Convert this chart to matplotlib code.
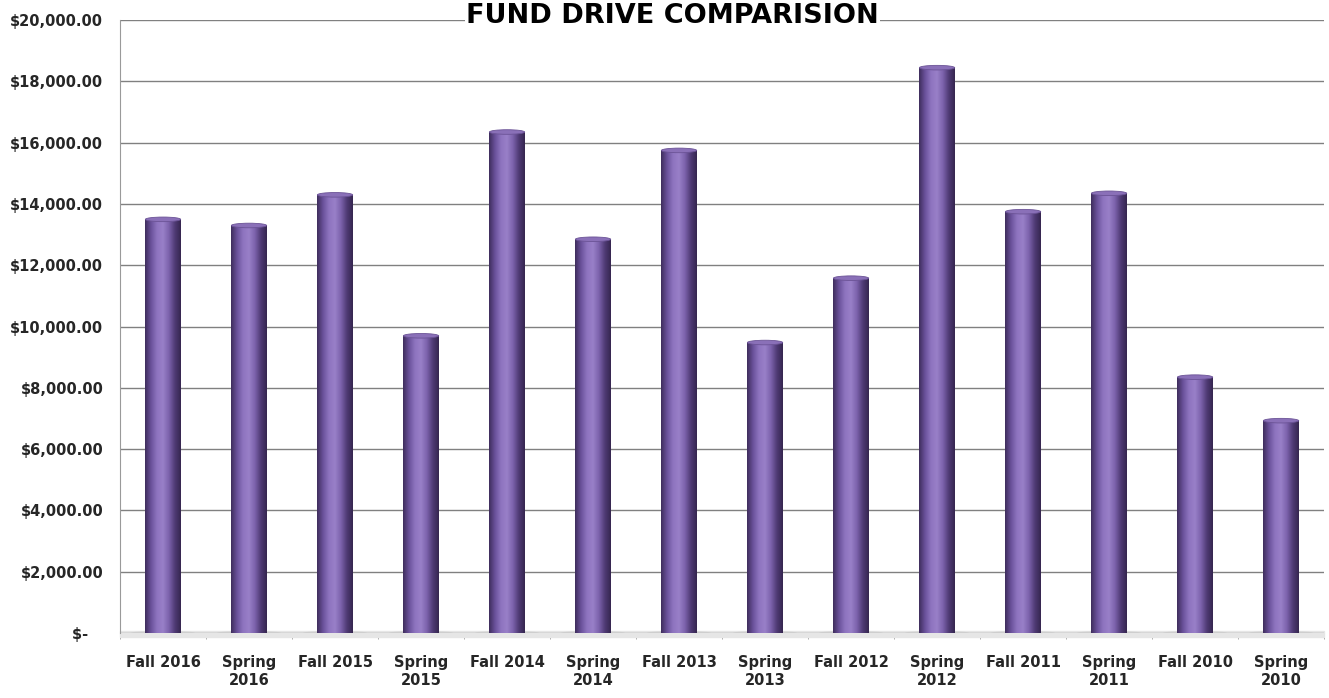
"""
Fund drive comparison chart (cylinder-style column chart).
Outputs: out.png
"""
import matplotlib
matplotlib.use('Agg')
import matplotlib.pyplot as plt
from matplotlib.patches import Ellipse
from matplotlib.colors import LinearSegmentedColormap
from matplotlib.ticker import FuncFormatter
import numpy as np

plt.rcParams['font.family'] = ['DejaVu Sans']

drives = ['Fall 2016', 'Spring\n2016', 'Fall 2015', 'Spring\n2015', 'Fall 2014',
          'Spring\n2014', 'Fall 2013', 'Spring\n2013', 'Fall 2012', 'Spring\n2012',
          'Fall 2011', 'Spring\n2011', 'Fall 2010', 'Spring\n2010']
amounts = [13500, 13300, 14300, 9700, 16350, 12850, 15750,
           9480, 11580, 18450, 13750, 14350, 8350, 6930]
y_ticks = [0, 2000, 4000, 6000, 8000, 10000, 12000, 14000, 16000, 18000, 20000]

fig = plt.figure(figsize=(13.29, 6.98), dpi=100)
ax = fig.add_axes([0.0903, 0.0931, 0.906, 0.878])

x = np.arange(len(drives))

# gridlines
ax.set_yticks(y_ticks)
ax.yaxis.grid(True, color='#808080', lw=1.0)
ax.set_axisbelow(True)

bars = ax.bar(x, amounts, width=0.41, color='#7d62a8', zorder=3)

# cylinder shading: horizontal gradient clipped to each bar
cyl = LinearSegmentedColormap.from_list(
    'cyl', ['#3e2d5c', '#6a519a', '#8e74bf', '#9980c8', '#7c62ac', '#4f3a74', '#35264f'])
grad = np.linspace(0, 1, 256).reshape(1, -1)
for b in bars:
    x0, w, h = b.get_x(), b.get_width(), b.get_height()
    im = ax.imshow(grad, cmap=cyl, aspect='auto', extent=(x0, x0 + w, 0, h),
                   zorder=3, interpolation='bilinear')
    im.set_clip_path(b)
    b.set_facecolor('none')
    top = Ellipse((x0 + w / 2, h), w, 150, facecolor='#8a70b8',
                  edgecolor='#6b5396', lw=0.6, zorder=4)
    ax.add_patch(top)
    base = Ellipse((x0 + w / 2, 0), w * 1.8, 160, facecolor='#d9d9d9',
                   edgecolor='none', alpha=0.8, zorder=2)
    ax.add_patch(base)

ax.set_xlim(-0.5, len(drives) - 0.5)
ax.set_ylim(0, 20000)

# floor
ax.axhspan(-120, 60, color='#e6e6e6', zorder=1, clip_on=False)
ax.axhline(0, color='#9a9a9a', lw=1.0, zorder=2)

for s in ['top', 'right', 'bottom']:
    ax.spines[s].set_visible(False)
ax.spines['left'].set_color('#9a9a9a')

ax.yaxis.set_major_formatter(FuncFormatter(
    lambda v, p: '$-   ' if v == 0 else f'${v:,.2f}'))
ax.tick_params(axis='y', length=0, pad=12, labelsize=10.5, labelcolor='#262626')
for lab in ax.get_yticklabels():
    lab.set_fontweight('bold')

ax.set_xticks(x)
ax.set_xticklabels(drives, fontsize=10.5, fontweight='bold', color='#262626',
                   linespacing=1.25)
ax.set_xticks(np.arange(-0.5, len(drives), 1), minor=True)
ax.tick_params(axis='x', which='major', length=0, pad=16)
ax.tick_params(axis='x', which='minor', length=4, color='#9a9a9a')

fig.text(0.506, 0.967, 'FUND DRIVE COMPARISION', ha='center', va='baseline',
         fontsize=19.5, fontweight='bold', color='#000000',
         bbox=dict(facecolor='white', edgecolor='none', pad=1))

fig.savefig('out.png', dpi=100, facecolor='white')
